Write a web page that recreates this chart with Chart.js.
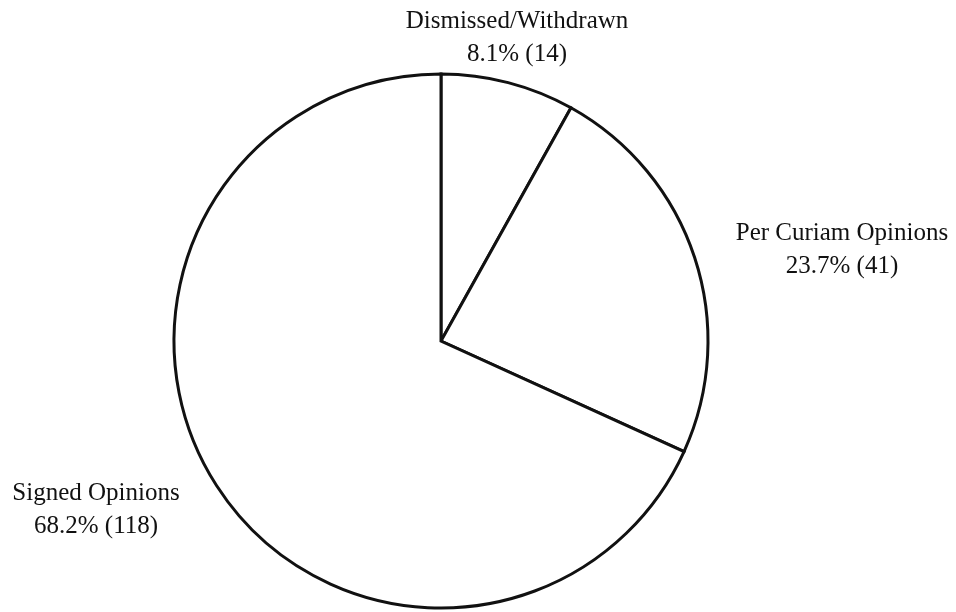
<!DOCTYPE html>
<html>
<head>
<meta charset="utf-8">
<script src="https://cdn.jsdelivr.net/npm/chart.js@4.4.0/dist/chart.umd.min.js"></script>
<style>
  html, body { margin: 0; padding: 0; background: #fff; }
  #chartDiv { width: 956px; height: 612px; }
</style>
</head>
<body>
<div id="chartDiv"><canvas id="myChart"></canvas></div>
<script>
// case outcomes
const categories = ["Dismissed/Withdrawn", "Per Curiam Opinions", "Signed Opinions"];
const counts = [14, 41, 118];
const percents = ["8.1%", "23.7%", "68.2%"];

// where each label sits, relative to the pie centre (first line baseline)
const labelOffsets = [[76, -313], [401, -101], [-345, 159]];

const sliceLabels = {
    id: "sliceLabels",
    afterDraw(chart) {
        const ctx = chart.ctx;
        const arcs = chart.getDatasetMeta(0).data;
        ctx.save();
        ctx.fillStyle = "#111";
        ctx.font = "25px 'Liberation Serif', 'Times New Roman', serif";
        ctx.textAlign = "center";
        ctx.textBaseline = "alphabetic";
        arcs.forEach(function (arc, i) {
            const x = arc.x + labelOffsets[i][0];
            const y = arc.y + labelOffsets[i][1];
            ctx.fillText(categories[i], x, y);
            ctx.fillText(percents[i] + " (" + counts[i] + ")", x, y + 33);
        });
        ctx.restore();
    }
};

function drawChart() {
    const canvas = document.getElementById("myChart");
    new Chart(canvas, {
        type: "pie",
        data: {
            labels: categories,
            datasets: [
                {
                    data: counts,
                    backgroundColor: "#ffffff",
                    borderColor: "#111111",
                    borderWidth: 3,
                    borderJoinStyle: "miter"
                }
            ]
        },
        options: {
            responsive: true,
            maintainAspectRatio: false,
            animation: false,
            radius: 267,
            layout: {
                padding: { top: 72, bottom: 2, left: 0, right: 74 }
            },
            plugins: {
                legend: { display: false },
                tooltip: { enabled: false }
            }
        },
        plugins: [sliceLabels]
    });
}

drawChart();
</script>
</body>
</html>
